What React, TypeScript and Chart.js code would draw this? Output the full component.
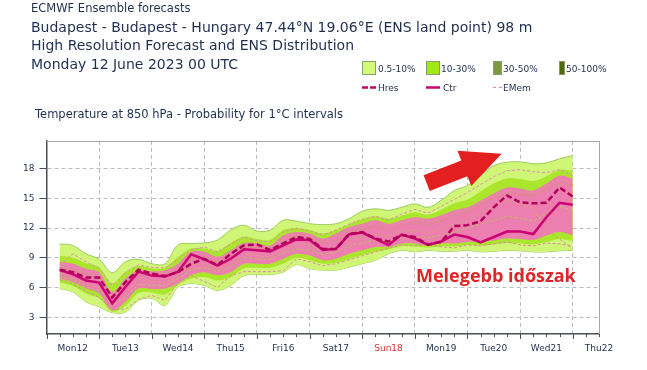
import React, { useEffect, useRef } from 'react';
import { Chart, registerables } from 'chart.js';
Chart.register(...registerables);

// forecast step (hours from Mon12 00 UTC)
const hours = [6,12,18,24,30,36,42,48,54,60,66,72,78,84,90,96,102,108,114,120,126,132,138,144,150,156,162,168,174,180,186,192,198,204,210,216,222,228,234,240];
const dayLabels = ['Mon12','Tue13','Wed14','Thu15','Fri16','Sat17','Sun18','Mon19','Tue20','Wed21','Thu22'];
const redDay = 'Sun18';
const yTicks = [3,6,9,12,15,18];

const ctr = [7.75,7.35,6.7,6.5,4.4,6.05,7.6,7.2,7.1,7.6,9.35,8.85,8.2,8.9,9.85,9.75,9.65,10.25,10.85,10.8,9.8,9.9,11.35,11.55,10.9,10.3,11.35,10.95,10.3,10.65,11.35,11.1,10.55,11.1,11.65,11.65,11.4,13.1,14.55,14.35];
const hres = [7.8,7.55,7.0,7.0,5.0,6.55,7.8,7.4,7.15,7.55,8.4,8.9,8.25,9.4,10.25,10.35,9.8,10.45,11.1,10.9,9.9,9.9,11.4,11.6,10.95,10.65,11.3,11.1,10.35,10.6,12.2,12.3,12.7,14.1,15.3,14.6,14.5,14.55,16.1,15.2];

const outerTop = [10.4,10.25,9.4,8.85,7.5,8.6,8.85,8.4,8.4,10.3,10.45,10.5,10.8,11.8,12.3,11.7,11.8,12.8,12.7,12.45,12.35,12.45,12.95,13.7,13.95,13.8,14.1,14.45,14.1,14.8,15.8,16.3,17.3,18.3,18.65,18.7,18.5,18.6,19.0,19.35];
const outerBottom = [5.9,5.55,4.55,4.05,3.45,3.5,4.7,4.9,4.2,6.05,6.4,6.2,5.7,6.2,7.2,7.3,7.3,7.55,8.3,7.9,7.75,7.75,8.05,8.4,8.75,9.4,9.75,9.6,9.75,9.65,9.65,9.75,9.6,9.65,9.75,9.7,9.6,9.6,9.7,9.75];
const greenTop = [9.2,9.0,8.45,8.05,6.4,7.6,8.2,7.95,8.0,9.1,9.95,9.95,9.7,10.5,11.15,10.9,10.8,11.8,12.0,11.8,11.45,11.8,12.4,12.9,13.2,12.95,13.25,13.6,13.35,13.85,14.5,14.9,15.7,16.5,17.0,16.95,16.75,17.25,17.9,17.8];
const greenBottom = [6.5,6.15,5.4,4.9,3.55,4.15,5.45,5.5,5.3,6.25,6.9,7.05,6.7,7.05,7.95,8.0,8.0,8.4,9.0,8.75,8.4,8.5,8.9,9.25,9.6,9.85,10.2,10.15,10.05,10.15,10.15,10.3,10.25,10.35,10.5,10.45,10.35,10.6,10.9,10.7];
const pinkTop = [8.6,8.4,7.9,7.55,5.55,6.9,7.75,7.65,7.75,8.4,9.6,9.6,9.1,9.75,10.5,10.45,10.25,11.25,11.6,11.45,10.95,11.45,12.1,12.45,12.8,12.45,12.8,13.1,12.95,13.3,13.8,14.1,14.8,15.5,16.1,16.0,15.8,16.5,17.3,17.0];
const pinkBottom = [6.9,6.55,5.9,5.4,3.7,4.55,5.9,5.85,5.9,6.4,7.25,7.55,7.25,7.55,8.4,8.4,8.4,8.9,9.4,9.25,8.75,8.9,9.4,9.75,10.1,10.1,10.45,10.45,10.25,10.45,10.45,10.6,10.65,10.75,10.95,10.9,10.8,11.25,11.6,11.25];

const memLow = [6.8,6.4,5.6,5.0,3.8,3.8,4.8,5.2,4.7,6.5,7.2,6.6,6.0,7.2,7.6,7.6,7.6,7.7,8.9,8.6,8.2,8.4,8.8,9.2,9.6,10.0,10.3,10.2,10.4,10.1,10.0,10.3,10.2,10.4,10.6,10.3,10.2,10.5,10.4,10.2];
const memHigh = [8.3,9.4,8.6,7.9,6.2,7.5,8.3,8.0,8.0,8.8,9.8,10.1,9.6,10.4,11.1,10.7,10.6,11.6,12.0,11.7,11.3,11.8,12.4,12.9,13.2,12.8,13.4,13.9,13.5,14.2,14.9,15.6,16.4,17.2,17.8,17.9,17.7,17.6,17.9,17.3];
const memMidA = [7.4,7.0,6.3,6.0,4.6,5.4,6.8,6.6,6.5,7.2,8.3,8.4,7.8,8.5,9.4,9.2,9.1,9.9,10.4,10.2,9.7,10.1,10.8,11.1,11.4,11.2,11.7,11.8,11.5,12.0,12.4,12.9,13.5,14.2,14.8,14.5,14.0,11.9,10.9,9.9];
const memMidB = [8.0,7.8,7.2,6.9,5.0,6.4,7.3,7.2,7.3,7.9,8.8,9.2,8.6,9.3,10.1,10.0,9.9,10.7,11.2,11.0,10.5,10.7,11.5,11.9,12.2,11.8,12.2,12.6,12.3,12.7,13.2,13.7,14.3,15.0,15.6,15.4,15.3,15.9,16.5,16.3];
const memMidC = [7.1,6.8,6.0,5.7,4.2,5.0,6.3,6.2,6.2,6.9,7.8,8.0,7.6,8.1,9.0,8.9,8.8,9.5,9.9,9.8,9.3,9.6,10.2,10.5,10.8,10.7,11.0,11.2,11.0,11.3,11.6,12.0,12.4,12.8,13.2,13.0,12.7,13.5,14.2,13.8];
const memMidD = [8.4,8.1,7.5,7.2,5.3,6.7,7.5,7.4,7.5,8.2,9.3,9.4,8.9,9.6,10.3,10.2,10.1,11.0,11.4,11.3,10.8,11.2,11.8,12.2,12.5,12.2,12.5,12.9,12.6,13.0,13.5,13.9,14.6,15.3,15.9,15.7,15.5,16.2,16.9,16.6];

// annotation anchors in data units (hours, °C)
const arrowTail = [173.4, 16.55];
const arrowTip = [207.6, 19.5];

const TEXT = '#1f2f4f';
const AXIS = '#4a4f5a';
const GRID = '#bdbdbd';

const xy = (arr: number[]) => arr.map((v, i) => ({ x: hours[i], y: v }));

const decorPlugin = {
  id: 'decor',
  afterDatasetsDraw(chart: any) {
    const { ctx, chartArea, scales } = chart;
    const xs = scales.x, ys = scales.y;
    ctx.save();
    ctx.strokeStyle = '#a5a5a5';
    ctx.lineWidth = 1;
    ctx.setLineDash([]);
    ctx.beginPath();
    ctx.moveTo(chartArea.left, chartArea.top + 0.5);
    ctx.lineTo(chartArea.right + 0.5, chartArea.top + 0.5);
    ctx.lineTo(chartArea.right + 0.5, chartArea.bottom);
    ctx.stroke();
    ctx.strokeStyle = AXIS;
    ctx.lineWidth = 1;
    for (let d = 0; d < dayLabels.length; d++) {
      for (let q = 0; q < 4; q++) {
        const h = d * 24 + q * 6;
        if (h > xs.max) continue;
        const px = Math.round(xs.getPixelForValue(h)) + 0.5;
        const len = q === 0 ? 5 : 3;
        ctx.beginPath();
        ctx.moveTo(px, chartArea.bottom);
        ctx.lineTo(px, chartArea.bottom + len);
        ctx.stroke();
      }
    }
    const tx = xs.getPixelForValue(arrowTail[0]), ty = ys.getPixelForValue(arrowTail[1]);
    const hx = xs.getPixelForValue(arrowTip[0]), hy = ys.getPixelForValue(arrowTip[1]);
    const L = Math.hypot(hx - tx, hy - ty);
    const ux = (hx - tx) / L, uy = (hy - ty) / L;
    const nx = -uy, ny = ux;
    const sw = 8.5, hw = 19, hl = 40;
    const bx = hx - ux * hl, by = hy - uy * hl;
    ctx.fillStyle = '#e3201f';
    ctx.beginPath();
    ctx.moveTo(tx + nx * sw, ty + ny * sw);
    ctx.lineTo(bx + nx * sw, by + ny * sw);
    ctx.lineTo(bx + nx * hw, by + ny * hw);
    ctx.lineTo(hx, hy);
    ctx.lineTo(bx - nx * hw, by - ny * hw);
    ctx.lineTo(bx - nx * sw, by - ny * sw);
    ctx.lineTo(tx - nx * sw, ty - ny * sw);
    ctx.closePath();
    ctx.fill();
    ctx.restore();
  },
};

export default function App() {
  const ref = useRef<HTMLCanvasElement>(null);
  useEffect(() => {
    if (!ref.current) return;
    const band = (data: number[], fill: any, bg: string, border: string, bw: number, order: number) => ({
      data: xy(data), fill, backgroundColor: bg, borderColor: border, borderWidth: bw,
      pointRadius: 0, tension: 0.35, order,
    });
    const member = (data: number[], color: string) => ({
      data: xy(data), fill: false, borderColor: color, borderWidth: 1, borderDash: [3, 2],
      pointRadius: 0, tension: 0, order: 5,
    });
    const chart = new Chart(ref.current, {
      type: 'line',
      data: {
        datasets: [
          band(outerTop, '+1', '#cff677', '#9dcb5a', 1, 9),
          band(outerBottom, false, 'transparent', '#9dcb5a', 1, 9),
          band(greenTop, '+1', '#aae62c', 'transparent', 0, 8),
          band(greenBottom, false, 'transparent', 'transparent', 0, 8),
          band(pinkTop, '+1', 'rgba(242,118,186,0.93)', 'transparent', 0, 7),
          band(pinkBottom, false, 'transparent', 'transparent', 0, 7),
          member(memLow, '#e08aa8'),
          member(memHigh, '#e68cb8'),
          member(memMidA, '#d8a070'),
          member(memMidB, '#c99a6a'),
          member(memMidC, '#b9c060'),
          member(memMidD, '#d99a8a'),
          { data: xy(ctr), fill: false, borderColor: '#cc0072', borderWidth: 2.5, pointRadius: 0, tension: 0, order: 2 },
          { data: xy(hres), fill: false, borderColor: '#b0005a', borderWidth: 2.5, borderDash: [6, 3], pointRadius: 0, tension: 0, order: 1 },
        ] as any,
      },
      options: {
        animation: false,
        responsive: false,
        devicePixelRatio: 1,
        layout: { padding: { top: 141, right: 48, left: 0, bottom: 0 } },
        plugins: { legend: { display: false }, tooltip: { enabled: false } },
        scales: {
          x: {
            type: 'linear', min: 0, max: dayLabels.length * 24 - 12,
            afterBuildTicks: (s: any) => {
              const t: any[] = [];
              for (let d = 0; d < dayLabels.length; d++) for (let q = 0; q < 4; q++) {
                const h = d * 24 + q * 6;
                if (h <= s.max) t.push({ value: h });
              }
              s.ticks = t;
            },
            afterFit: (s: any) => { s.height = 36; },
            grid: {
              drawTicks: false,
              color: (c: any) => (c.tick && c.tick.value % 24 === 0 && c.tick.value > 0 && c.tick.value < 252 ? GRID : 'rgba(0,0,0,0)'),
            },
            border: { display: true, color: AXIS, width: 1.5, dash: [4, 3] },
            ticks: {
              autoSkip: false, maxRotation: 0, minRotation: 0, padding: 9,
              font: { family: 'DejaVu Sans', size: 9 },
              color: (c: any) => {
                const h = c.tick ? c.tick.value : 0;
                return dayLabels[(h - 12) / 24] === redDay ? '#dd3333' : TEXT;
              },
              callback: (v: any) => {
                const h = Number(v);
                return h % 24 === 12 ? dayLabels[(h - 12) / 24] : '';
              },
            },
          },
          y: {
            min: 1.3, max: 20.8,
            afterBuildTicks: (s: any) => { s.ticks = yTicks.map((v) => ({ value: v })); },
            afterFit: (s: any) => { s.width = 46.5; },
            grid: { color: GRID, tickColor: AXIS, tickLength: 7, drawTicks: true, tickBorderDash: [] },
            border: { display: true, color: AXIS, width: 1.5, dash: [4, 3] },
            ticks: { padding: 5, font: { family: 'DejaVu Sans', size: 9 }, color: TEXT },
          },
        },
      } as any,
      plugins: [decorPlugin],
    });
    return () => chart.destroy();
  }, []);

  const txt = (s: string, left: number, top: number, size: number, extra: any = {}) => (
    <div style={{ position: 'absolute', left, top, fontSize: size, color: TEXT, whiteSpace: 'nowrap', lineHeight: 'normal', ...extra }}>{s}</div>
  );
  const sw = (left: number, width: number, bg: string) => (
    <div style={{ position: 'absolute', left, top: 61, width, height: 14, background: bg, boxSizing: 'border-box', border: '1px solid #8f9a70' }} />
  );
  const ln = (left: number, width: number, color: string, h: number, dashed: string | null) => (
    <svg style={{ position: 'absolute', left, top: 84 }} width={width} height={7}>
      <line x1={0} y1={3.5} x2={width} y2={3.5} stroke={color} strokeWidth={h} strokeDasharray={dashed || undefined} />
    </svg>
  );

  return (
    <div style={{ position: 'absolute', left: 0, top: 0, width: 647, height: 370, background: '#fff', fontFamily: '"DejaVu Sans"', overflow: 'hidden' }}>
      <canvas ref={ref} width={647} height={370} style={{ position: 'absolute', left: 0, top: 0 }} />
      {txt('ECMWF Ensemble forecasts', 31, 1.3, 11.5)}
      {txt('Budapest - Budapest - Hungary 47.44°N 19.06°E (ENS land point) 98 m', 31, 18.5, 14)}
      {txt('High Resolution Forecast and ENS Distribution', 31, 37, 14)}
      {txt('Monday 12 June 2023 00 UTC', 31, 56, 14)}
      {txt('Temperature at 850 hPa - Probability for 1°C intervals', 35, 107.3, 11.5)}
      {sw(362, 14, '#d2fa78')}
      {sw(426, 14, '#a4e812')}
      {sw(493, 9, '#7a9a3c')}
      {sw(559, 6, '#4a6a0a')}
      {txt('0.5-10%', 378, 64, 9)}
      {txt('10-30%', 441, 64, 9)}
      {txt('30-50%', 503, 64, 9)}
      {txt('50-100%', 566, 64, 9)}
      {ln(362, 15, '#c8006a', 2.5, '6 2')}
      {txt('Hres', 378, 82.7, 9)}
      {ln(426, 14, '#cc0072', 2.5, null)}
      {txt('Ctr', 443, 82.7, 9)}
      {ln(493, 9, '#e08aa8', 1, '3 3')}
      {txt('EMem', 503, 82.7, 9)}
      <div style={{ position: 'absolute', left: 416, top: 263, fontFamily: '"Open Sans"', fontWeight: 700, fontSize: 18, color: '#dd2626', whiteSpace: 'nowrap', lineHeight: 'normal' }}>Melegebb időszak</div>
    </div>
  );
}
